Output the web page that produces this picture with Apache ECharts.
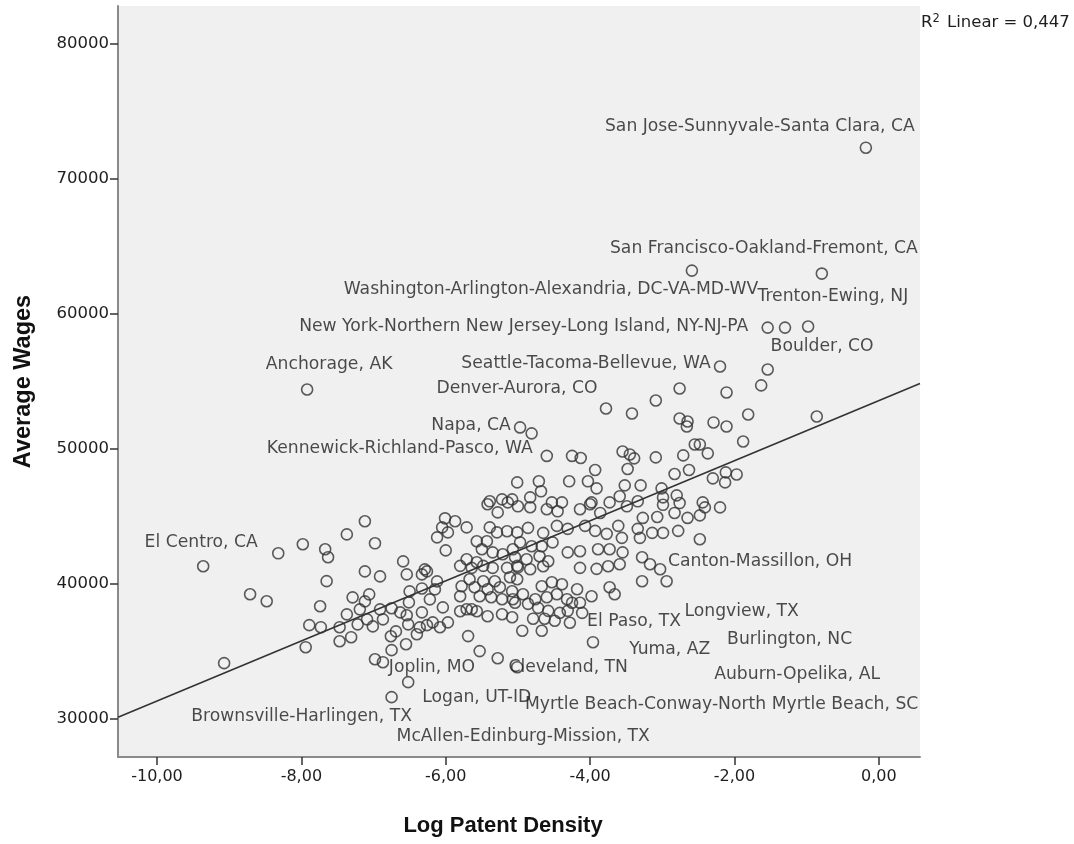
<!DOCTYPE html>
<html><head><meta charset="utf-8">
<script src="https://cdn.jsdelivr.net/npm/echarts@6/dist/echarts.min.js"></script>
<style>html,body{margin:0;padding:0;background:#fff}#c{width:1074px;height:844px}</style>
</head><body><div id="c"></div>
<script>
// ---- data ----
const metroNames = ["San Jose-Sunnyvale-Santa Clara, CA","San Francisco-Oakland-Fremont, CA","Washington-Arlington-Alexandria, DC-VA-MD-WV","Trenton-Ewing, NJ","New York-Northern New Jersey-Long Island, NY-NJ-PA","Boulder, CO","Anchorage, AK","Seattle-Tacoma-Bellevue, WA","Denver-Aurora, CO","Napa, CA","Kennewick-Richland-Pasco, WA","El Centro, CA","Canton-Massillon, OH","Longview, TX","El Paso, TX","Yuma, AZ","Burlington, NC","Auburn-Opelika, AL","Joplin, MO","Cleveland, TN","Logan, UT-ID","Myrtle Beach-Conway-North Myrtle Beach, SC","Brownsville-Harlingen, TX","McAllen-Edinburg-Mission, TX"];
// first entries correspond to metroNames
const logPatent = [-0.18,-2.59,-1.30,-0.79,-1.54,-0.98,-7.92,-2.20,-3.78,-4.97,-4.60,-9.36,-3.03,-3.66,-3.96,-4.67,-2.94,-3.28,-6.87,-5.01,-5.28,-5.53,-6.75,-6.52,
-1.54,-1.63,-2.11,-1.81,-0.86,-2.29,-2.11,-1.88,-2.48,-2.37,-2.30,-2.12,-1.97,-2.13,-2.44,-2.20,
-5.01,-5.39,-5.22,-5.08,-2.76,-3.09,-3.42,-2.76,-2.65,-2.66,-4.81,-2.55,-3.55,-3.45,-3.39,-3.09,-2.71,
-4.25,-4.13,-3.48,-2.83,-2.63,-3.93,-4.71,-4.68,-4.29,-4.03,-3.91,-3.52,-3.30,-3.01,-2.80,
-4.83,-4.53,-4.39,-3.98,-3.73,-3.59,-3.34,-2.99,
-8.32,-7.98,-7.67,-7.63,-7.65,-8.71,-8.48,-7.74,-7.89,-7.73,-7.94,-9.07,
-7.12,-7.37,-6.98,-6.59,-7.12,-6.91,-6.54,-6.29,-6.26,-6.33,-6.12,-6.15,-6.33,-6.50,-7.29,-7.06,-7.12,-6.91,-7.19,-7.37,
-6.75,-6.63,-6.54,-6.33,-6.51,-6.22,-6.04,-5.97,-6.18,-6.36,-6.52,-6.69,-6.87,-7.01,-7.22,-7.09,
-7.47,-7.47,-7.31,-6.76,-6.55,-6.75,-6.40,-6.26,-6.08,-6.98,
-6.01,-5.87,-5.71,-6.05,-5.97,-6.12,-6.00,-5.42,-5.28,-5.14,-5.39,-5.29,-5.15,-5.01,-5.57,-5.43,-5.50,-5.35,-5.21,-5.07,
-5.71,-5.57,-5.80,-5.64,-5.48,-5.35,-5.15,-5.01,-5.67,-5.48,-5.32,-5.11,-5.78,-5.60,-5.42,-5.25,-5.08,
-5.80,-5.53,-5.37,-5.22,-5.07,-5.71,-5.57,-5.42,-5.22,-5.08,-5.80,-5.64,-5.69,
-5.00,-4.83,-4.60,-4.45,-4.14,-4.00,-3.86,-3.49,-3.27,-3.07,-2.99,-2.83,-2.76,-2.65,-2.48,
-4.86,-4.65,-4.46,-4.31,-4.07,-3.93,-3.77,-3.61,-3.56,-3.34,-3.31,-3.14,-2.99,-2.78,-2.48,
-4.97,-4.81,-4.67,-4.52,-4.31,-4.14,-3.89,-3.73,-3.55,-3.28,-3.17,
-5.04,-4.88,-4.70,-4.58,-5.00,-4.83,-4.65,-4.14,-3.91,-3.75,-3.59,
-5.01,-4.67,-4.53,-4.39,-4.18,-3.98,-3.73,-4.93,-4.76,-4.60,-4.46,-4.32,-4.25,-4.14,
-5.04,-4.86,-4.72,-4.58,-4.42,-4.31,-4.11,-4.79,-4.63,-4.49,-4.28,-4.94,-2.41];
const avgWages = [72310,63210,58990,62990,58990,59070,54410,56110,53000,51600,49490,41320,41100,39250,35700,36550,40210,40210,34220,33850,34510,35040,31630,32740,
55890,54710,54190,52560,52410,51970,51670,50560,50340,49680,47830,48270,48120,47530,46050,45680,
47530,46130,46270,46270,54480,53590,52630,52260,52040,51670,51160,50340,49820,49600,49310,49380,49530,
49490,49340,48520,48150,48450,48450,47610,46870,47610,47610,47090,47310,47310,47090,46570,
46420,46050,46050,46050,46050,46500,46130,46420,
42280,42950,42580,41990,40220,39250,38730,38360,36960,36810,35330,34150,
44650,43680,43020,41680,40940,40570,40720,41090,40940,40720,40200,39610,39680,39460,39020,39240,38720,38130,38130,37760,
38210,37910,37690,37910,38650,38870,38280,37170,37170,36800,37020,36500,37390,36870,37020,37390,
36810,35770,36070,36140,35550,35110,36290,36960,36810,34440,
44870,44650,44200,44200,43830,43460,42500,45910,45310,46050,44200,43830,43910,43830,43170,43170,42580,42350,42210,42580,
41840,41620,41350,41200,41350,41200,41200,41350,40360,40210,40210,40510,39840,39770,39620,39770,39470,
39100,39100,39030,38880,38880,38140,37990,37620,37770,37550,37990,38140,36150,
45760,45690,45540,45390,45540,45910,45270,45760,44900,44970,45870,45270,46000,44900,45090,
44160,43790,44310,44090,44310,43940,43720,44310,43420,44090,43420,43790,43790,43940,43320,
43090,42800,42800,43090,42350,42430,42580,42580,42350,41990,41470,
41990,41840,42060,41690,41240,41100,41320,41200,41130,41320,41470,
40360,39840,40140,39990,39620,39100,39770,39250,38880,39030,39250,38880,38620,38620,
38620,38540,38240,38020,37870,38020,37870,37440,37440,37290,37140,36550,45680];
// linear fit line end points
const fitLine = [[-10.54, 30150], [0.57, 54850]];
const xTicks = [-10, -8, -6, -4, -2, 0];
const yTicks = [30000, 40000, 50000, 60000, 70000, 80000];
const rSquared = "0,447";

// ---- styles ----
const labelOffsets = [[-106,-21],[72,-22],[-234,-38],[11,23],[-244,-1],[14,20],[22,-25],[-134,-3],[-89,-20],[-49,-2],[-147,-7],[-2,-24],[100,-8],[127,17],[41,-21],[128,19],[123,58],[155,93],[49,5],[51,0],[-21,39],[242,53],[-90,19],[115,54]];
const FONT = 'DejaVu Sans';
const TXT = '#1e1e1e';

const chart = echarts.init(document.getElementById('c'));
const pts = logPatent.map((x, i) => {
  const it = { value: [x, avgWages[i]] };
  if (i < metroNames.length) {
    it.label = { show: true, formatter: metroNames[i], position: 'inside', align: 'center', verticalAlign: 'middle',
      color: TXT, fontFamily: FONT, fontSize: 17.2 };
  }
  return it;
});
chart.setOption({
  animation: false,
  backgroundColor: '#fff',
  grid: { left: 118, right: 154, top: 6, bottom: 87, show: true, backgroundColor: '#f0f0f0', borderWidth: 0 },
  xAxis: {
    type: 'value', min: -10.54, max: 0.57,
    splitLine: { show: false },
    axisLine: { onZero: false, lineStyle: { color: '#8a8a8a', width: 2 } },
    axisTick: { customValues: xTicks, length: 8, lineStyle: { color: '#333', width: 1.5 } },
    axisLabel: { customValues: xTicks, formatter: v => v.toFixed(2).replace('.', ','), color: TXT, fontFamily: FONT, fontSize: 16, margin: 12 },
    name: 'Log Patent Density', nameLocation: 'middle', nameGap: 58,
    nameTextStyle: { fontFamily: 'Liberation Sans', fontWeight: 'bold', fontSize: 22, color: '#111', padding: [0, 32, 0, 0] }
  },
  yAxis: {
    type: 'value', min: 27200, max: 82800,
    splitLine: { show: false },
    axisLine: { onZero: false, lineStyle: { color: '#8a8a8a', width: 2 } },
    axisTick: { customValues: yTicks, length: 8, lineStyle: { color: '#333', width: 1.5 } },
    axisLabel: { customValues: yTicks, formatter: v => String(v), color: TXT, fontFamily: FONT, fontSize: 16.5, margin: 9 },
    name: 'Average Wages', nameLocation: 'middle', nameGap: 82, nameRotate: 90,
    nameTextStyle: { fontFamily: 'Liberation Sans', fontWeight: 'bold', fontSize: 23.5, color: '#111' }
  },
  graphic: [{
    type: 'text', left: 921, top: 13,
    style: { text: 'R{s|2} Linear = ' + rSquared, fill: TXT, font: '16.5px "DejaVu Sans"',
      rich: { s: { fontSize: 11.5, fontFamily: FONT, verticalAlign: 'top', padding: [0, 2, 8, 0], fill: TXT } } }
  }],
  series: [
    { type: 'line', data: fitLine, symbol: 'none', lineStyle: { color: '#333', width: 1.6 }, z: 3, silent: true },
    { type: 'scatter', data: pts, symbol: 'circle', symbolSize: 11,
      itemStyle: { color: 'rgba(0,0,0,0)', borderColor: '#333', borderWidth: 1.6 }, z: 2,
      labelLayout: p => {
        const o = labelOffsets[p.dataIndex] || [0, 0];
        return { dx: o[0], dy: o[1], hideOverlap: false };
      } }
  ]
});
</script></body></html>
